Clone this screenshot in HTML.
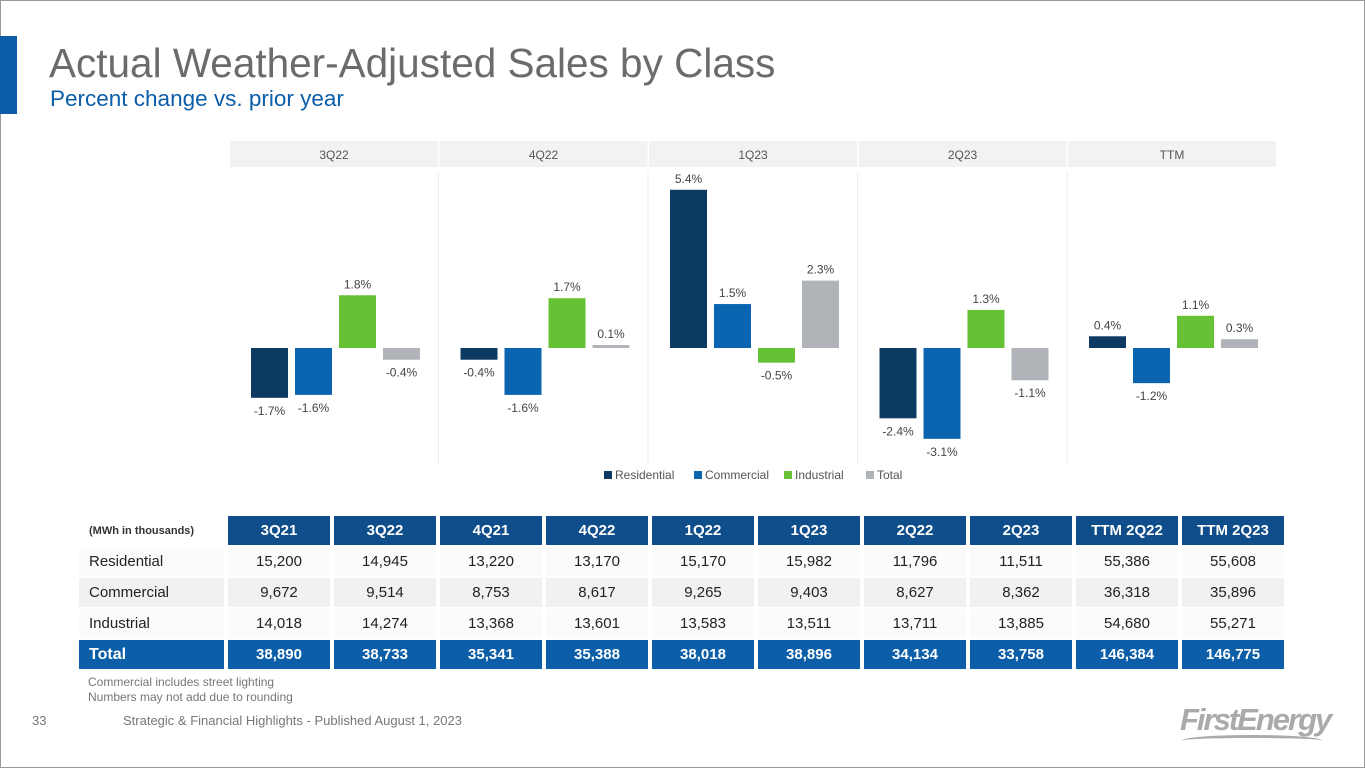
<!DOCTYPE html>
<html><head><meta charset="utf-8"><style>
body{margin:0;width:1365px;height:768px;background:#fff;font-family:"Liberation Sans",sans-serif;position:relative;overflow:hidden}
.abs{position:absolute}
table{border-collapse:separate;border-spacing:4px 2px;position:absolute;left:75px;top:514px;font-size:15px}
td{height:29px;text-align:center;padding:0;color:#222}
td.l{text-align:left;padding-left:10px;width:135px}
tr.h td{background:#104e8b;color:#fff;font-weight:bold;width:102px}
tr.h td.l{background:none;color:#333;font-size:11px;font-weight:bold}
tr.r1 td,tr.r3 td{background:#fcfbfa}
tr.r2 td{background:#f1f1f1}
tr.t td{background:#0c5ea8;color:#fff;font-weight:bold}
tr.t td.l{font-size:16px}
</style></head><body>
<div class="abs" style="left:0;top:0;width:1363px;height:766px;border:1px solid #999"></div>
<div class="abs" style="left:0;top:36px;width:17px;height:78px;background:#0c5ea8"></div>
<div class="abs" style="left:49px;top:40px;font-size:40.5px;color:#6b6b6b">Actual Weather-Adjusted Sales by Class</div>
<div class="abs" style="left:50px;top:86px;font-size:22.5px;color:#0c5ea8">Percent change vs. prior year</div>
<svg class="abs" style="left:0;top:0" width="1365" height="500" id="chart"></svg>
<table>
<tr class="h"><td class="l">(MWh in thousands)</td><td>3Q21</td><td>3Q22</td><td>4Q21</td><td>4Q22</td><td>1Q22</td><td>1Q23</td><td>2Q22</td><td>2Q23</td><td>TTM 2Q22</td><td>TTM 2Q23</td></tr>
<tr class="r1"><td class="l">Residential</td><td>15,200</td><td>14,945</td><td>13,220</td><td>13,170</td><td>15,170</td><td>15,982</td><td>11,796</td><td>11,511</td><td>55,386</td><td>55,608</td></tr>
<tr class="r2"><td class="l">Commercial</td><td>9,672</td><td>9,514</td><td>8,753</td><td>8,617</td><td>9,265</td><td>9,403</td><td>8,627</td><td>8,362</td><td>36,318</td><td>35,896</td></tr>
<tr class="r3"><td class="l">Industrial</td><td>14,018</td><td>14,274</td><td>13,368</td><td>13,601</td><td>13,583</td><td>13,511</td><td>13,711</td><td>13,885</td><td>54,680</td><td>55,271</td></tr>
<tr class="t"><td class="l">Total</td><td>38,890</td><td>38,733</td><td>35,341</td><td>35,388</td><td>38,018</td><td>38,896</td><td>34,134</td><td>33,758</td><td>146,384</td><td>146,775</td></tr>
</table>
<div class="abs" style="left:88px;top:675px;font-size:12px;color:#777;line-height:15px">Commercial includes street lighting<br>Numbers may not add due to rounding</div>
<div class="abs" style="left:32px;top:713px;font-size:13px;color:#777">33</div>
<div class="abs" style="left:123px;top:713px;font-size:13px;color:#777">Strategic &amp; Financial Highlights - Published August 1, 2023</div>
<div class="abs" style="left:1180px;top:702px;font-size:31px;font-style:italic;font-weight:bold;color:#aaa;letter-spacing:-2px">FirstEnergy</div>
<div class="abs" style="left:1182px;top:735px;width:140px;height:8px;border-top:3px solid #aaa;border-radius:50% 50% 0 0"></div>
<script>
const periods=["3Q22","4Q22","1Q23","2Q23","TTM"];
const series=["Residential","Commercial","Industrial","Total"];
const residential=[-1.7,-0.4,5.4,-2.4,0.4];
const commercial=[-1.6,-1.6,1.5,-3.1,-1.2];
const industrial=[1.8,1.7,-0.5,1.3,1.1];
const total=[-0.4,0.1,2.3,-1.1,0.3];
const colors=["#0d3a63","#0a64b0","#66c234","#b0b3b8"];
const vals=[residential,commercial,industrial,total];
const svg=document.getElementById('chart');
const NS="http://www.w3.org/2000/svg";
const y0=348,ppu=29.3;
const y=v=>y0-v*ppu;
function mk(t,a){const e=document.createElementNS(NS,t);for(const k in a)e.setAttribute(k,a[k]);svg.appendChild(e);return e;}
periods.forEach((p,i)=>{
  const px=230+i*209.5;
  const h=mk('rect',{x:px,y:141,width:208,height:26,fill:'#f2f2f2'});
  
  const t=mk('text',{x:px+104,y:159,'text-anchor':'middle','font-size':12,fill:'#555'});t.textContent=p;
  
  if(i<4){const l=mk('line',{x1:px+208.5,x2:px+208.5,y1:172,y2:465,stroke:'#eee'});}
  vals.forEach((s,j)=>{
    const v=s[i],bx=px+21+j*44;
    const r=mk('rect',{x:bx,y:Math.min(y(v),y0),width:37,height:Math.abs(y(v)-y0),fill:colors[j]});
    
    
    const ly=v>=0?y(v)-7:y(v)+17;
    const tl=mk('text',{x:bx+18.5,y:ly,'text-anchor':'middle','font-size':12,fill:'#444'});
    tl.textContent=v.toFixed(1)+'%';
    
    
  });
});
const lx=[604,694,784,866];
series.forEach((s,j)=>{
  const r=mk('rect',{x:lx[j],y:471,width:8,height:8,fill:colors[j]});
  
  const t=mk('text',{x:lx[j]+11,y:479,'font-size':12,fill:'#555'});t.textContent=s;
  
});
</script>
</body></html>
